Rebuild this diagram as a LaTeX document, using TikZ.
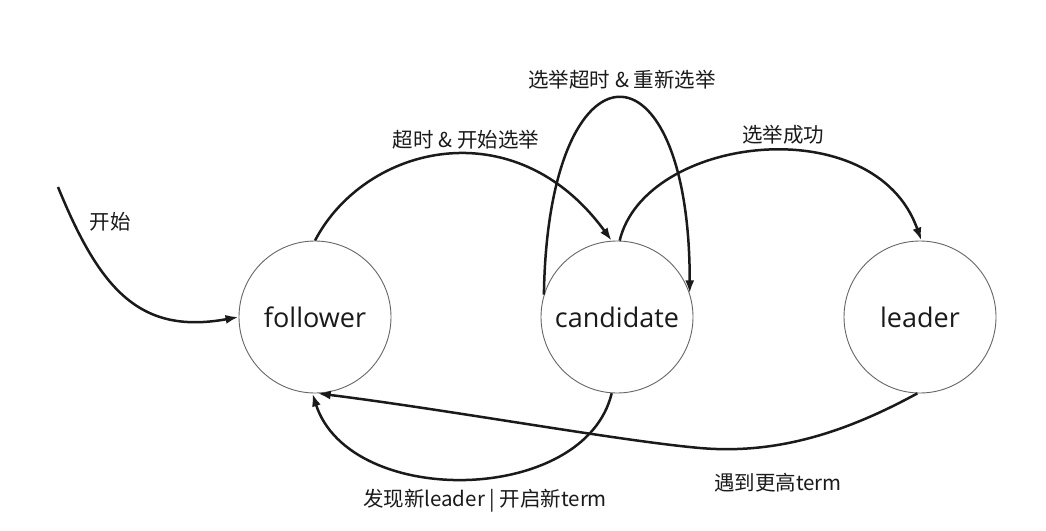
\documentclass[tikz,border=0pt]{standalone}
\usepackage{fontspec}
\setmainfont{Noto Sans CJK SC}
\newfontfamily\latinfont{Open Sans}
\usetikzlibrary{arrows.meta}
\definecolor{ink}{HTML}{1A1A1A}
\definecolor{ring}{HTML}{666666}
\tikzset{
  state/.style={circle, draw=ring, line width=0.9pt, minimum size=152pt, inner sep=0pt,
                font=\latinfont\fontsize{27}{30}\selectfont, text=ink},
  edge/.style={draw=ink, line width=2.5pt, -{Latex[length=13pt,width=9pt]}},
  lbl/.style={font=\fontsize{20.5}{24}\selectfont, text=ink, inner sep=0pt}
}
\begin{document}
\begin{tikzpicture}[x=1pt,y=-1pt]
\useasboundingbox[fill=white] (0,0) rectangle (1046,530);
\node[state] (follower) at (315,317) {follower};
\node[state] (candidate) at (617,317) {candidate};
\node[state] (leader) at (920,317) {leader};
\coordinate (start) at (58,187);
\coordinate (low) at (700,448);

% start -> follower
\draw[edge] (start) .. controls (100,290) and (140,335) .. (follower.west);
% follower -> candidate
\draw[edge] (follower.north) .. controls (365,145) and (515,108) .. (candidate.94);
% candidate self loop
\draw[edge] (candidate.163) .. controls (548,33) and (690,33) .. (candidate.18);
% candidate -> leader
\draw[edge] (candidate.88) .. controls (645,135) and (875,108) .. (leader.89);
% candidate -> follower
\draw[edge] (candidate.266) .. controls (585,505) and (350,509) .. (follower.268);
% leader -> follower
\draw[edge] (leader.268) .. controls (850,430) and (780,455) .. (low)
  .. controls (620,441) and (450,410) .. (follower.272);

\node[lbl] (l1) at (110,222) {开始};
\node[lbl] (l2) at (466,140) {超时 \& 开始选举};
\node[lbl] (l3) at (622,80) {选举超时 \& 重新选举};
\node[lbl] (l4) at (783,135) {选举成功};
\node[lbl] (l5) at (485,501) {发现新leader | 开启新term};
\node[lbl] (l6) at (778,483) {遇到更高term};
\end{tikzpicture}
\end{document}
